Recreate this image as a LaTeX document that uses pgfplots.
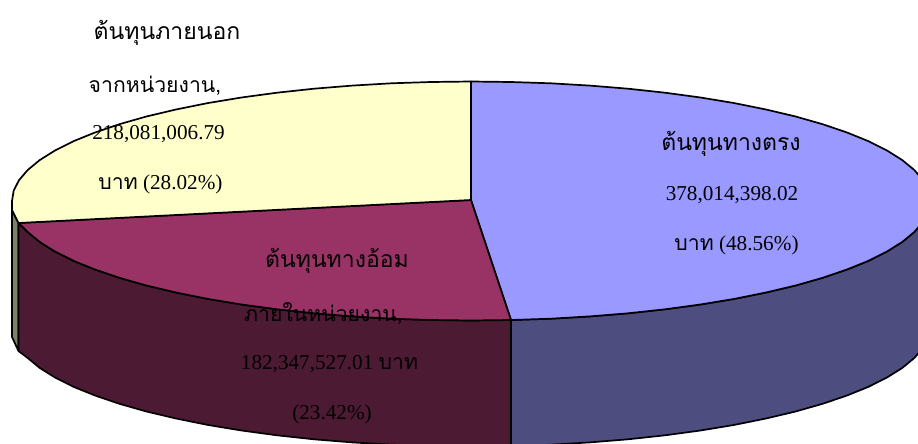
\documentclass[border=0pt]{standalone}
\usepackage{fontspec}
\usepackage{pgfplots}
\pgfplotsset{compat=1.18}
\setmainfont{Liberation Serif}
\newfontfamily\thaifont[Script=Thai]{Loma}
\definecolor{bluetop}{HTML}{9999FF}
\definecolor{blueside}{HTML}{4D4D80}
\definecolor{maroontop}{HTML}{993366}
\definecolor{maroonside}{HTML}{4D1A33}
\definecolor{yellowtop}{HTML}{FFFFCC}
\definecolor{yellowside}{HTML}{808066}
\newcommand{\tx}[1]{{\thaifont\fontsize{23}{24}\selectfont #1}}
\newcommand{\ty}[1]{{\thaifont\fontsize{21.2}{24}\selectfont #1}}
\begin{document}
\begin{tikzpicture}
\begin{axis}[name=a,scale only axis,width=918pt,height=444pt,xmin=0,xmax=918,ymin=0,ymax=444,
  y dir=reverse,axis lines=none,clip=true,
  every axis plot/.append style={line width=1.7pt,draw=black,line join=round,mark=none}]
% side of the third slice
\addplot[fill=yellowside] coordinates {(12,201)(12,210)(18.5,223)(18.5,351)(12,337)(12,327)(12,201)};
% side of the first slice
\addplot[fill=blueside] coordinates {(930,201)(928.3,211.4)(923.0,221.8)(914.4,231.9)(902.3,241.9)(887.0,251.5)(868.5,260.8)(847.0,269.5)(822.6,277.8)(795.6,285.5)(766.0,292.5)(734.3,298.9)(700.5,304.5)(665.0,309.3)(628.0,313.3)(589.8,316.4)(550.7,318.7)(511.0,320.0)
(511.0,446.0)(550.7,444.7)(589.8,442.4)(628.0,439.3)(665.0,435.3)(700.5,430.5)(734.3,424.9)(766.0,418.5)(795.6,411.5)(822.6,403.8)(847.0,395.5)(868.5,386.8)(887.0,377.5)(902.3,367.9)(914.4,357.9)(923.0,347.8)(928.3,337.4)(930,327)(930,201)};
% side of the second slice
\addplot[fill=maroonside] coordinates {(511.0,320.0)(471,320.5)(431.0,320.0)(391.3,318.7)(352.2,316.4)(314.0,313.3)(277.0,309.3)(241.5,304.5)(207.7,298.9)(176.0,292.5)(146.4,285.5)(119.4,277.8)(95.0,269.5)(73.5,260.8)(55.0,251.5)(39.7,241.9)(27.6,231.9)(18.5,223)
(18.5,351)(27.6,357.9)(39.7,367.9)(55.0,377.5)(73.5,386.8)(95.0,395.5)(119.4,403.8)(146.4,411.5)(176.0,418.5)(207.7,424.9)(241.5,430.5)(277.0,435.3)(314.0,439.3)(352.2,442.4)(391.3,444.7)(431.0,446.0)(471,446.5)(511.0,446.0)(511.0,320.0)};
% top of the first slice
\addplot[fill=bluetop] coordinates {(471,200)(471,81.5)(511.0,82.0)(550.7,83.3)(589.8,85.6)(628.0,88.7)(665.0,92.7)(700.5,97.5)(734.3,103.1)(766.0,109.5)(795.6,116.5)(822.6,124.2)(847.0,132.5)(868.5,141.2)(887.0,150.5)(902.3,160.1)(914.4,170.1)(923.0,180.2)(928.3,190.6)(930,201)(928.3,211.4)(923.0,221.8)(914.4,231.9)(902.3,241.9)(887.0,251.5)(868.5,260.8)(847.0,269.5)(822.6,277.8)(795.6,285.5)(766.0,292.5)(734.3,298.9)(700.5,304.5)(665.0,309.3)(628.0,313.3)(589.8,316.4)(550.7,318.7)(511.0,320.0)(471,200)};
% top of the second slice
\addplot[fill=maroontop] coordinates {(471,200)(511.0,320.0)(471,320.5)(431.0,320.0)(391.3,318.7)(352.2,316.4)(314.0,313.3)(277.0,309.3)(241.5,304.5)(207.7,298.9)(176.0,292.5)(146.4,285.5)(119.4,277.8)(95.0,269.5)(73.5,260.8)(55.0,251.5)(39.7,241.9)(27.6,231.9)(18.5,223)(471,200)};
% top of the third slice
\addplot[fill=yellowtop] coordinates {(471,200)(18.5,223)(12,210)(12,201)(13.7,190.6)(19.0,180.2)(27.6,170.1)(39.7,160.1)(55.0,150.5)(73.5,141.2)(95.0,132.5)(119.4,124.2)(146.4,116.5)(176.0,109.5)(207.7,103.1)(241.5,97.5)(277.0,92.7)(314.0,88.7)(352.2,85.6)(391.3,83.3)(431.0,82.0)(471,81.5)(471,200)};
\def\fs{\fontsize{21.2}{24}\selectfont}
\node[font=\fs] at (axis cs:167,33) {\tx{ต้นทุนภายนอก}};
\node[font=\fs] at (axis cs:155,86) {\ty{จากหน่วยงาน,}};
\node[font=\fs] at (axis cs:158.5,134.5) {218,081,006.79};
\node[font=\fs] at (axis cs:160.5,184) {\ty{บาท} (28.02\%)};
\node[font=\fs] at (axis cs:731,144) {\tx{ต้นทุนทางตรง}};
\node[font=\fs] at (axis cs:732,195.5) {378,014,398.02};
\node[font=\fs] at (axis cs:736.5,245) {\ty{บาท} (48.56\%)};
\node[font=\fs] at (axis cs:337,261) {\tx{ต้นทุนทางอ้อม}};
\node[font=\fs] at (axis cs:323.5,313) {\ty{ภายในหน่วยงาน,}};
\node[font=\fs] at (axis cs:329.5,364.5) {182,347,527.01 \ty{บาท}};
\node[font=\fs] at (axis cs:332,414.5) {(23.42\%)};
\end{axis}
\pgfresetboundingbox
\useasboundingbox (a.south west) rectangle (a.north east);
\end{tikzpicture}
\end{document}
